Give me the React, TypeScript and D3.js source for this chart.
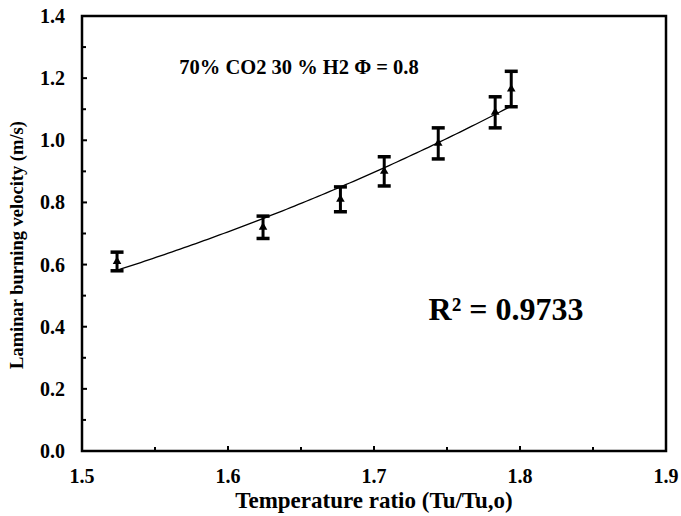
import React from "react";
import * as d3 from "d3";

const tempRatio = [1.524, 1.624, 1.677, 1.707, 1.744, 1.783, 1.794];
const velocity = [0.61, 0.72, 0.81, 0.90, 0.99, 1.09, 1.165];
const errors = [0.03, 0.036, 0.04, 0.047, 0.05, 0.05, 0.057];
const xTicks = [1.5, 1.6, 1.7, 1.8, 1.9];
const yTicks = [0, 0.2, 0.4, 0.6, 0.8, 1.0, 1.2, 1.4];
const xMinor = [1.55, 1.65, 1.75, 1.85];
const yMinor = [0.1, 0.3, 0.5, 0.7, 0.9, 1.1, 1.3];
const title = "70% CO2 30 % H2 Φ = 0.8";
const r2Label = "R² = 0.9733";

const W = 681, H = 516;
const L = 82, R = 666, T = 16, B = 451;
const font = "'Liberation Serif', 'Times New Roman', serif";

export default function App() {
  const x = d3.scaleLinear().domain([1.5, 1.9]).range([L, R]);
  const y = d3.scaleLinear().domain([0, 1.4]).range([B, T]);

  // power-law trendline fitted to the data (least squares on logs)
  const lx = tempRatio.map(Math.log), ly = velocity.map(Math.log);
  const mx = d3.mean(lx)!, my = d3.mean(ly)!;
  const b = d3.sum(lx.map((v, i) => (v - mx) * (ly[i] - my))) / d3.sum(lx.map(v => (v - mx) ** 2));
  const a = Math.exp(my - b * mx);
  const x0 = d3.min(tempRatio)!, x1 = d3.max(tempRatio)!;
  const xs = d3.range(0, 101).map(i => x0 + (x1 - x0) * i / 100);
  const line = d3.line<number>().x(v => x(v)).y(v => y(a * Math.pow(v, b)));

  const tri = d3.symbol().type(d3.symbolTriangle).size(32)();

  return (
    <svg width={W} height={H} style={{ position: "absolute", left: 0, top: 0 }}>
      <rect width={W} height={H} fill="white" />
      <path d={line(xs) || ""} fill="none" stroke="black" strokeWidth={1.3} />
      {tempRatio.map((t, i) => {
        const cx = x(t), cy = y(velocity[i]);
        const y1 = y(velocity[i] + errors[i]), y2 = y(velocity[i] - errors[i]);
        return (
          <g key={i}>
            <line x1={cx} x2={cx} y1={y1} y2={y2} stroke="black" strokeWidth={3} />
            <line x1={cx - 6.5} x2={cx + 6.5} y1={y1} y2={y1} stroke="black" strokeWidth={3.5} />
            <line x1={cx - 6.5} x2={cx + 6.5} y1={y2} y2={y2} stroke="black" strokeWidth={3.5} />
            <path d={tri || ""} transform={`translate(${cx},${cy})`} fill="black" />
          </g>
        );
      })}
      <rect x={L} y={T} width={R - L} height={B - T} fill="none" stroke="black" strokeWidth={2.5} />
      {xTicks.map(t => (
        <g key={"x" + t}>
          <line x1={x(t)} x2={x(t)} y1={B} y2={B - 5} stroke="black" strokeWidth={2} />
          <text x={x(t)} y={483} textAnchor="middle" fontFamily={font} fontWeight="bold" fontSize={20}>{t.toFixed(1)}</text>
        </g>
      ))}
      {xMinor.map(t => (
        <line key={"xm" + t} x1={x(t)} x2={x(t)} y1={B} y2={B - 4} stroke="black" strokeWidth={2} />
      ))}
      {yTicks.map(t => (
        <g key={"y" + t}>
          <line x1={L} x2={L + 5} y1={y(t)} y2={y(t)} stroke="black" strokeWidth={2} />
          <text x={65} y={y(t) + 7} textAnchor="end" fontFamily={font} fontWeight="bold" fontSize={20}>{t.toFixed(1)}</text>
        </g>
      ))}
      {yMinor.map(t => (
        <line key={"ym" + t} x1={L} x2={L + 4} y1={y(t)} y2={y(t)} stroke="black" strokeWidth={2} />
      ))}
      <text x={374} y={508} textAnchor="middle" fontFamily={font} fontWeight="bold" fontSize={23}>Temperature ratio (Tu/Tu,o)</text>
      <text transform={`translate(23,${245}) rotate(-90)`} textAnchor="middle" fontFamily={font} fontWeight="bold" fontSize={18.5}>Laminar burning velocity (m/s)</text>
      <text x={299} y={74} textAnchor="middle" fontFamily={font} fontWeight="bold" fontSize={20.5}>{title}</text>
      <text x={506} y={320} textAnchor="middle" fontFamily={font} fontWeight="bold" fontSize={32}>{r2Label}</text>
    </svg>
  );
}
